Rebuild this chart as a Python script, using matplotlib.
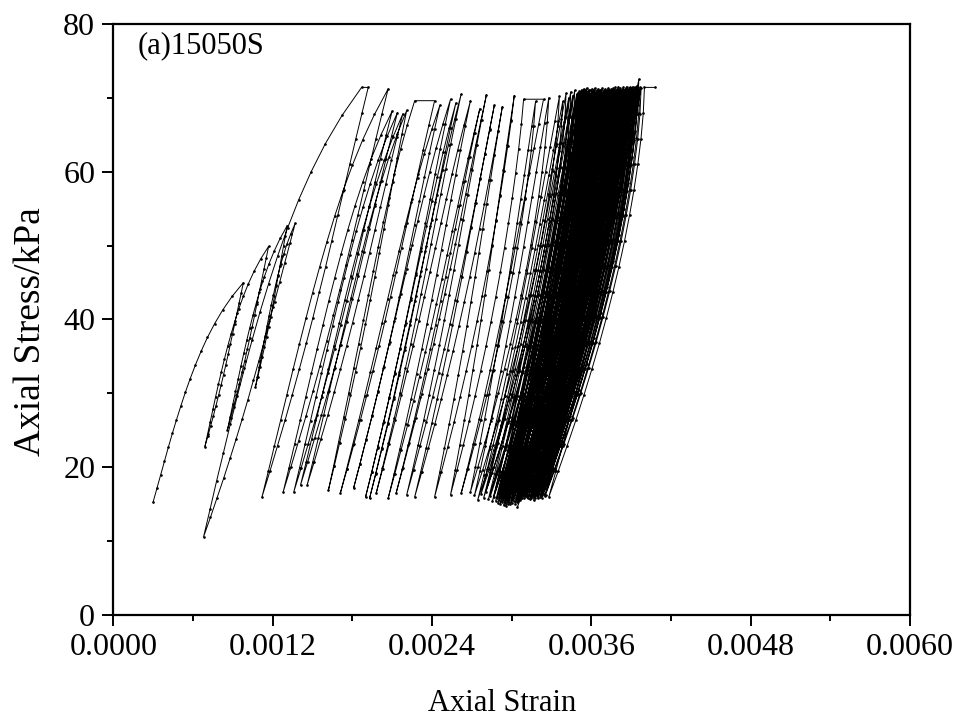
import numpy as np
import matplotlib

matplotlib.use("Agg")
import matplotlib.pyplot as plt
from matplotlib.ticker import MultipleLocator, FormatStrFormatter

# turning points of every load cycle (strain, kPa)
VALLEY_STRAIN = [
    # first cycles
    0.00030, 0.00069, 0.00086, 0.00107, 0.00068,
    # open loops in the middle
    0.00112, 0.00128, 0.00136, 0.00141, 0.00146, 0.00162, 0.00171, 0.00181, 0.00190, 0.00193,
    0.00198, 0.00207, 0.00213, 0.00221, 0.00227, 0.00242, 0.00254, 0.00262, 0.00269,
    # grey edge of the dense band
    0.002720, 0.002745, 0.002770, 0.002790, 0.002805, 0.002825, 0.002840, 0.002855, 0.002865, 0.002880,
    # dense band
    0.002890, 0.002897, 0.002903, 0.002910, 0.002915, 0.002922, 0.002928, 0.002935, 0.002940, 0.002946,
    0.002953, 0.002958, 0.002965, 0.002971, 0.002977, 0.002983, 0.002990, 0.002995, 0.003001, 0.003008,
    0.003014, 0.003020, 0.003026, 0.003032, 0.003038, 0.003044, 0.003050, 0.003057, 0.003063, 0.003069,
    0.003075, 0.003081, 0.003087, 0.003093, 0.003099, 0.003106, 0.003112, 0.003118, 0.003124, 0.003130,
    0.003136, 0.003142, 0.003148, 0.003154, 0.003160, 0.003166, 0.003172, 0.003178, 0.003184, 0.003190,
    0.003196, 0.003202, 0.003208, 0.003214, 0.003220, 0.003226, 0.003232, 0.003240, 0.003248, 0.003256,
    # last cycle
    0.00328,
]
VALLEY_STRESS = [
    15.3, 22.8, 25.1, 30.8, 10.6,
    16.0, 16.7, 16.7, 17.6, 17.6, 16.9, 16.5, 17.2, 16.0, 15.8,
    16.5, 15.8, 16.5, 16.3, 16.0, 16.0, 16.3, 16.5, 16.7,
    16.2, 15.6, 16.4, 15.9, 16.6, 15.7, 16.1, 15.4, 16.0, 15.5,
    15.8, 15.2, 16.0, 15.5, 15.1, 15.9, 15.3, 15.6, 14.9, 15.8,
    15.2, 14.8, 15.5, 15.0, 15.3, 15.9, 15.0, 15.6, 15.2, 15.8,
    15.4, 16.0, 15.1, 15.7, 15.3, 14.6, 15.5, 16.1, 15.6, 15.9,
    16.2, 15.8, 16.3, 15.9, 16.1, 16.4, 16.0, 16.3, 15.9, 16.2,
    15.7, 16.1, 15.8, 16.3, 16.0, 15.6, 16.2, 15.9, 16.4, 16.1,
    15.8, 16.2, 16.5, 16.0, 16.3, 15.9, 16.2, 16.4, 16.1, 16.3,
    16.0,
]
PEAK_STRAIN = [
    0.00098, 0.00117, 0.00131, 0.00137, 0.00187,
    0.00207, 0.00210, 0.00214, 0.00218, 0.00221, 0.00227, 0.00246, 0.00254, 0.00258, 0.00262,
    0.00269, 0.00276, 0.00281, 0.00287, 0.00293, 0.00302, 0.00309, 0.00318, 0.00328,
    0.003360, 0.003385, 0.003410, 0.003430, 0.003445, 0.003460, 0.003475, 0.003490, 0.003500, 0.003510,
    0.003520, 0.003528, 0.003536, 0.003543, 0.003551, 0.003559, 0.003566, 0.003574, 0.003582, 0.003589,
    0.003597, 0.003605, 0.003612, 0.003620, 0.003628, 0.003635, 0.003643, 0.003651, 0.003658, 0.003666,
    0.003674, 0.003681, 0.003689, 0.003697, 0.003704, 0.003712, 0.003720, 0.003727, 0.003735, 0.003743,
    0.003750, 0.003758, 0.003766, 0.003773, 0.003781, 0.003789, 0.003796, 0.003804, 0.003812, 0.003819,
    0.003827, 0.003835, 0.003842, 0.003850, 0.003858, 0.003865, 0.003873, 0.003881, 0.003888, 0.003896,
    0.003904, 0.003911, 0.003919, 0.003927, 0.003934, 0.003942, 0.003950, 0.003958, 0.003966, 0.003975,
    0.00400,
]
PEAK_STRESS = [
    45.0, 49.9, 52.7, 53.0, 71.4,
    71.2, 68.2, 68.0, 67.8, 68.3, 69.6, 69.0, 69.8, 69.3, 70.5,
    69.6, 68.5, 70.4, 69.0, 68.8, 70.3, 69.8, 69.5, 70.0,
    70.2, 69.5, 70.6, 70.0, 70.8, 70.3, 71.0, 70.5, 70.7, 70.9,
    70.9, 71.1, 70.7, 71.2, 71.0, 70.8, 71.3, 70.9, 71.1, 71.0,
    70.6, 71.2, 70.9, 71.1, 71.3, 70.8, 71.0, 71.2, 70.9, 71.1,
    71.0, 71.3, 70.8, 71.1, 71.2, 70.9, 71.0, 71.3, 71.1, 70.9,
    71.2, 71.0, 71.3, 71.1, 71.4, 71.0, 71.2, 71.5, 71.1, 71.3,
    71.0, 71.2, 71.4, 71.1, 71.3, 71.5, 71.2, 71.0, 71.4, 71.3,
    71.1, 71.5, 71.2, 71.4, 71.3, 71.6, 71.2, 72.5, 71.4, 71.3,
    71.4,
]
# peaks where the strain kept growing at constant stress: start -> end strain
FLAT_TOPS = {0.00187: 0.00192, 0.00227: 0.00242, 0.00309: 0.00324, 0.00400: 0.00408}

# branch shapes (strain fraction against stress fraction), read from the
# first loading curve (softening) and the last loading curve (stiffening)
SHAPE_T = [0.0, 0.0625, 0.125, 0.1875, 0.25, 0.3125, 0.375, 0.4375, 0.5,
           0.5625, 0.625, 0.6875, 0.75, 0.8125, 0.875, 0.9375, 1.0]
SOFT_F = [0.0, 0.042, 0.083, 0.126, 0.169, 0.213, 0.259, 0.307, 0.357,
          0.411, 0.469, 0.532, 0.602, 0.681, 0.771, 0.876, 1.0]
STIFF_F = [0.0, 0.098, 0.192, 0.283, 0.369, 0.451, 0.529, 0.602, 0.670,
           0.734, 0.792, 0.844, 0.891, 0.931, 0.964, 0.988, 1.0]


def branch(e_low, s_low, e_high, s_high, weight):
    t = np.array(SHAPE_T)
    f = (1 - weight) * np.array(SOFT_F) + weight * np.array(STIFF_F)
    return e_low + f * (e_high - e_low), s_low + t * (s_high - s_low)


def build_path():
    xs, ys = [], []
    n = len(VALLEY_STRAIN)
    for i in range(n):
        ev, sv = VALLEY_STRAIN[i], VALLEY_STRESS[i]
        ep, sp = PEAK_STRAIN[i], PEAK_STRESS[i]
        w_load = np.interp(ev, [0.0007, 0.0013, 0.0020, 0.0028], [0.0, 0.2, 0.5, 1.0])
        bx, by = branch(ev, sv, ep, sp, w_load)
        xs.extend(bx)
        ys.extend(by)
        top = ep
        if ep in FLAT_TOPS:
            top = FLAT_TOPS[ep]
            xs.append(top)
            ys.append(sp)
        if i + 1 < n:
            ev2, sv2 = VALLEY_STRAIN[i + 1], VALLEY_STRESS[i + 1]
            w_unload = np.interp(ev2, [0.0007, 0.0020, 0.0028], [0.6, 0.55, 0.6])
            ux, uy = branch(ev2, sv2, top, sp, w_unload)
            xs.extend(ux[::-1][1:-1])
            ys.extend(uy[::-1][1:-1])
    return xs, ys


plt.rcParams["font.family"] = ["Liberation Serif", "DejaVu Serif"]

fig = plt.figure(figsize=(9.64, 7.22), dpi=100)
ax = fig.add_axes([0.1175, 0.148, 0.8265, 0.819])

xs, ys = build_path()
ax.plot(xs, ys, color="black", linewidth=0.7, marker=".", markersize=1.8)

ax.set_xlim(0, 0.006)
ax.set_ylim(0, 80)
ax.xaxis.set_major_locator(MultipleLocator(0.0012))
ax.xaxis.set_minor_locator(MultipleLocator(0.0006))
ax.xaxis.set_major_formatter(FormatStrFormatter("%.4f"))
ax.yaxis.set_major_locator(MultipleLocator(20))
ax.yaxis.set_minor_locator(MultipleLocator(10))
ax.tick_params(which="major", direction="out", length=8, width=1.4, labelsize=23, pad=5)
ax.tick_params(which="minor", direction="out", length=4.5, width=1.4)
for spine in ax.spines.values():
    spine.set_linewidth(1.6)

ax.set_xlabel("Axial Strain", fontsize=22)
ax.xaxis.set_label_coords(0.488, -0.125)
ax.set_ylabel("Axial Stress/kPa", fontsize=27)
ax.yaxis.set_label_coords(-0.082, 0.48)
ax.text(0.03, 0.963, "(a)15050S", transform=ax.transAxes, fontsize=22,
        ha="left", va="center")

fig.savefig("out.png", dpi=100)
plt.close(fig)
